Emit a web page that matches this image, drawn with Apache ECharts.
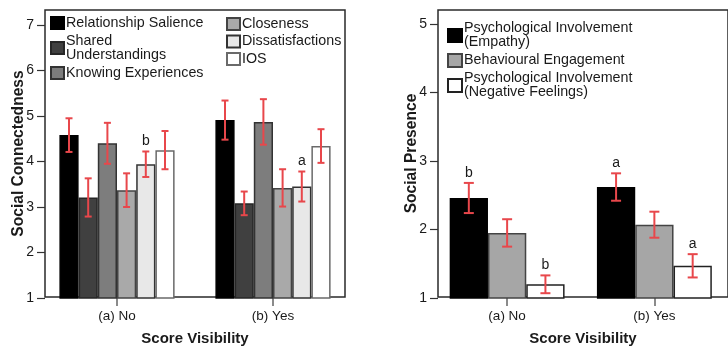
<!DOCTYPE html>
<html>
<head>
<meta charset="utf-8">
<script src="https://cdn.jsdelivr.net/npm/echarts@6/dist/echarts.min.js"></script>
<style>
  html, body { margin: 0; padding: 0; background: #fff; }
  #chart { width: 728px; height: 351px; }
</style>
</head>
<body>
<div id="chart"></div>
<script>
// Groups on the horizontal axis
const categories = ['(a) No', '(b) Yes'];

// Social connectedness measures (means and error half-widths)
const connNames = ['Relationship Salience', 'Shared\nUnderstandings', 'Knowing Experiences',
                   'Closeness', 'Dissatisfactions', 'IOS'];
const relSalience     = [4.58, 4.91];
const relSalienceErr  = [0.37, 0.43];
const sharedUnd       = [3.21, 3.08];
const sharedUndErr    = [0.42, 0.26];
const knowingExp      = [4.40, 4.87];
const knowingExpErr   = [0.45, 0.50];
const closeness       = [3.37, 3.42];
const closenessErr    = [0.37, 0.41];
const dissatisfaction = [3.94, 3.45];
const dissatisfErr    = [0.28, 0.33];
const dissatisfSig    = ['b', 'a'];
const ios             = [4.25, 4.34];
const iosErr          = [0.42, 0.37];

// Social presence measures
const presNames = ['Psychological Involvement\n(Empathy)', 'Behavioural Engagement',
                   'Psychological Involvement\n(Negative Feelings)'];
const empathy        = [2.46, 2.62];
const empathyErr     = [0.22, 0.20];
const empathySig     = ['b', 'a'];
const behavioural    = [1.95, 2.07];
const behaviouralErr = [0.20, 0.19];
const negFeelings    = [1.20, 1.47];
const negFeelingsErr = [0.13, 0.17];
const negFeelingsSig = ['b', 'a'];

// Tick values of the two value axes
const connTicks = [1, 2, 3, 4, 5, 6, 7];
const presTicks = [1, 2, 3, 4, 5];

const FONT = '"Liberation Sans", Arial, Helvetica, sans-serif';
const TEXT = '#1a1a1a';
const ERR = '#e8474b';

const connSeries = [
  { name: connNames[0], mean: relSalience, err: relSalienceErr, color: '#000000', border: '#000000' },
  { name: connNames[1], mean: sharedUnd, err: sharedUndErr, color: '#404040', border: '#262626' },
  { name: connNames[2], mean: knowingExp, err: knowingExpErr, color: '#7d7d7d', border: '#333333' },
  { name: connNames[3], mean: closeness, err: closenessErr, color: '#a9a9a9', border: '#444444' },
  { name: connNames[4], mean: dissatisfaction, err: dissatisfErr, sig: dissatisfSig, color: '#e8e8e8', border: '#333333' },
  { name: connNames[5], mean: ios, err: iosErr, color: '#ffffff', border: '#6a6a6a' }
];
const presSeries = [
  { name: presNames[0], mean: empathy, err: empathyErr, sig: empathySig, color: '#000000', border: '#000000' },
  { name: presNames[1], mean: behavioural, err: behaviouralErr, color: '#a6a6a6', border: '#444444' },
  { name: presNames[2], mean: negFeelings, err: negFeelingsErr, sig: negFeelingsSig, color: '#ffffff', border: '#222222' }
];

// Panel layout: frame box, bar area, bar width, cap width
const panels = [
  { frame: { left: 45, top: 10, width: 300, height: 288 },
    bars:  { left: 39, top: 25, width: 312, height: 273 },
    axisOffset: -6, barWidth: 19.2, capHalf: 3.5,
    min: 1, max: 7, ticks: connTicks, yName: 'Social Connectedness', series: connSeries },
  { frame: { left: 438, top: 10, width: 301, height: 288 },
    bars:  { left: 433.5, top: 24, width: 310, height: 274 },
    axisOffset: -4.5, barWidth: 38.3, capHalf: 5,
    min: 1, max: 5, ticks: presTicks, yName: 'Social Presence', series: presSeries }
];

const grid = [], xAxis = [], yAxis = [], series = [];

panels.forEach((p, pi) => {
  const fIdx = grid.length;
  grid.push(Object.assign({ show: true, borderColor: '#2a2a2a', borderWidth: 1.5, backgroundColor: 'transparent' }, p.frame));
  const bIdx = grid.length;
  grid.push(Object.assign({ show: false }, p.bars));

  // Frame axes: carry only the axis titles
  xAxis.push({
    gridIndex: fIdx, type: 'category', data: categories,
    axisLine: { show: false }, axisTick: { show: false }, axisLabel: { show: false },
    name: 'Score Visibility', nameLocation: 'middle', nameGap: 34,
    nameTextStyle: { fontFamily: FONT, fontSize: 15, fontWeight: 'bold', color: TEXT }
  });
  yAxis.push({
    gridIndex: fIdx, type: 'value', min: 0, max: 1,
    axisLine: { show: false }, axisTick: { show: false }, axisLabel: { show: false },
    splitLine: { show: false },
    name: p.yName, nameLocation: 'middle', nameGap: 18,
    nameTextStyle: { fontFamily: FONT, fontSize: 15.6, fontWeight: 'bold', color: TEXT }
  });

  // Bar axes
  xAxis.push({
    gridIndex: bIdx, type: 'category', data: categories,
    axisLine: { show: false },
    axisTick: { show: true, alignWithLabel: true, length: 8, lineStyle: { color: '#666', width: 1.5 } },
    axisLabel: { margin: 11, fontFamily: FONT, fontSize: 13.5, color: TEXT }
  });
  yAxis.push({
    gridIndex: bIdx, type: 'value', min: p.min, max: p.max, interval: 1,
    offset: p.axisOffset,
    axisLine: { show: false },
    axisTick: { show: true, length: 8, lineStyle: { color: '#333', width: 1.2 } },
    axisLabel: { margin: 11, fontFamily: FONT, fontSize: 14, color: TEXT,
                 formatter: v => (p.ticks.indexOf(v) >= 0 ? String(v) : '') },
    splitLine: { show: false }
  });
  const xi = xAxis.length - 1, yi = yAxis.length - 1;

  p.series.forEach(s => {
    series.push({
      name: s.name, type: 'bar', xAxisIndex: xi, yAxisIndex: yi,
      barWidth: p.barWidth, barGap: '0%',
      itemStyle: { color: s.color, borderColor: s.border, borderWidth: 1.5 },
      data: s.mean
    });
  });

  // Error bars and significance letters
  const n = p.series.length;
  const rows = [];
  p.series.forEach((s, si) => {
    s.mean.forEach((m, ci) => {
      rows.push({ cat: ci, mean: m, err: s.err[ci], slot: si, sig: s.sig ? s.sig[ci] : '' });
    });
  });
  series.push({
    type: 'custom', xAxisIndex: xi, yAxisIndex: yi, clip: false, z: 5,
    silent: true,
    data: rows.map(r => [r.cat, r.mean, r.err, r.slot]),
    renderItem: (params, api) => {
      const r = rows[params.dataIndex];
      const hi = api.coord([r.cat, r.mean + r.err]);
      const lo = api.coord([r.cat, r.mean - r.err]);
      const x = hi[0] + (r.slot - (n - 1) / 2) * p.barWidth;
      const ls = { stroke: ERR, lineWidth: 2 };
      const children = [
        { type: 'line', shape: { x1: x, y1: hi[1], x2: x, y2: lo[1] }, style: ls },
        { type: 'line', shape: { x1: x - p.capHalf, y1: hi[1], x2: x + p.capHalf, y2: hi[1] }, style: ls },
        { type: 'line', shape: { x1: x - p.capHalf, y1: lo[1], x2: x + p.capHalf, y2: lo[1] }, style: ls }
      ];
      if (r.sig) {
        children.push({
          type: 'text',
          style: { text: r.sig, x: x, y: hi[1] - 3, align: 'center', verticalAlign: 'bottom',
                   fontFamily: FONT, fontSize: 14, fill: TEXT }
        });
      }
      return { type: 'group', children };
    }
  });
});

const legendText = { fontFamily: FONT, fontSize: 14.3, color: TEXT, lineHeight: 14, padding: [0, 0, 0, -3] };

const option = {
  animation: false,
  backgroundColor: '#fff',
  grid, xAxis, yAxis, series,
  legend: [
    { orient: 'vertical', left: 50, top: 16, icon: 'rect', itemWidth: 13, itemHeight: 12, itemGap: 4,
      data: connNames.slice(0, 3), textStyle: legendText, padding: 0, selectedMode: false },
    { orient: 'vertical', left: 226, top: 17, icon: 'rect', itemWidth: 13, itemHeight: 12, itemGap: 3.5,
      data: connNames.slice(3), textStyle: legendText, padding: 0, selectedMode: false },
    { orient: 'vertical', left: 447, top: 21.5, icon: 'rect', itemWidth: 14, itemHeight: 13, itemGap: 3.5,
      data: presNames, textStyle: legendText, padding: 0, selectedMode: false }
  ]
};

const chart = echarts.init(document.getElementById('chart'), null, { renderer: 'canvas' });
chart.setOption(option);
</script>
</body>
</html>
